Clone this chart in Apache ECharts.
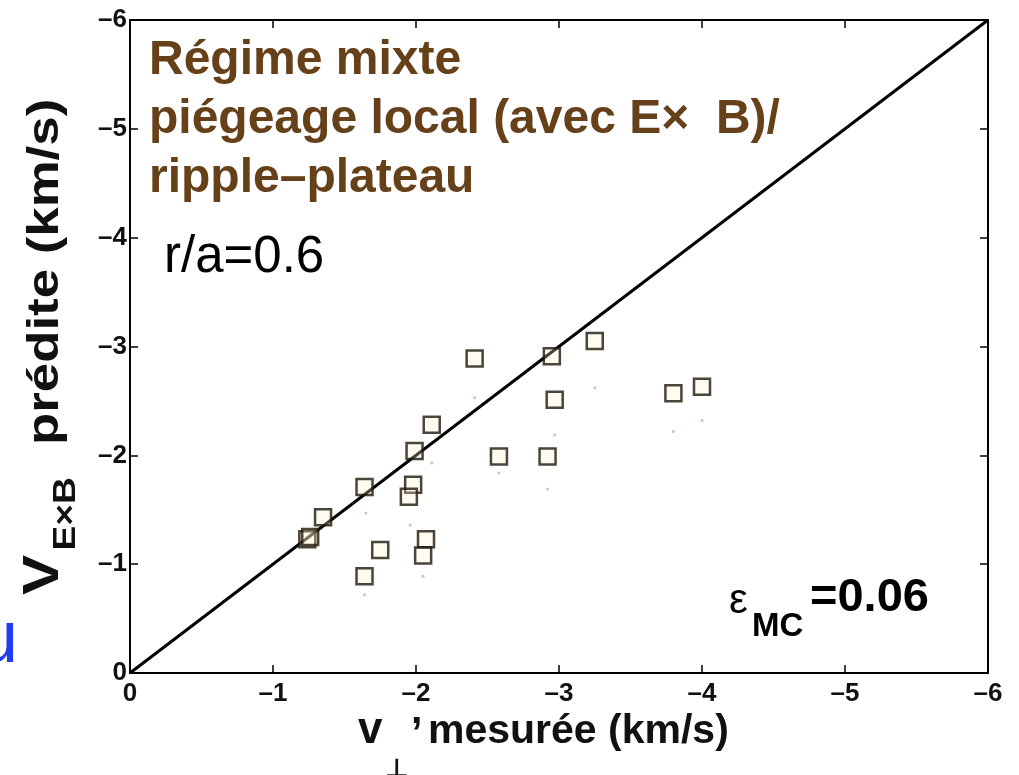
<!DOCTYPE html>
<html>
<head>
<meta charset="utf-8">
<script src="https://cdn.jsdelivr.net/npm/echarts@6/dist/echarts.min.js"></script>
<style>
  html, body { margin: 0; padding: 0; background: #fff; }
  #chart { width: 1019px; height: 775px; }
</style>
</head>
<body>
<div id="chart"></div>
<script>
// Measured perpendicular velocity (km/s) and predicted E×B velocity (km/s)
const measured  = [-2.41, -2.95, -3.25, -2.97, -3.80, -4.00, -2.11, -1.99, -2.58, -2.92,
                   -1.64, -1.98, -1.95, -1.35, -1.24, -1.26, -2.07, -1.75, -2.05, -1.64];
const predicted = [-2.89, -2.91, -3.05, -2.51, -2.57, -2.63, -2.28, -2.04, -1.99, -1.99,
                   -1.71, -1.73, -1.62, -1.43, -1.23, -1.25, -1.23, -1.13, -1.08, -0.89];

// Faint secondary markers
const faintX = [-2.41, -3.25, -3.80, -4.00, -2.97, -2.11, -2.58, -2.92, -1.65, -1.96, -2.05, -1.64];
const faintY = [-2.53, -2.62, -2.22, -2.32, -2.19, -1.93, -1.84, -1.69, -1.47, -1.36, -0.89, -0.72];

// Identity line v_pred = v_meas
const diagX = [0, -6];
const diagY = [0, -6];

// Axis range
const axisMin = -6;
const axisMax = 0;
const axisStep = 1;

const FONT = '"Liberation Sans", Arial, Helvetica, sans-serif';
const pairs = (xs, ys) => xs.map((x, i) => [x, ys[i]]);
const tickFmt = v => (v === 0 ? '0' : '\u2013' + Math.abs(v));

const chart = echarts.init(document.getElementById('chart'), null, { renderer: 'canvas' });

const baseAxis = {
  type: 'value',
  min: axisMin,
  max: axisMax,
  interval: axisStep,
  inverse: true,
  splitLine: { show: false },
  axisLine: { show: true, onZero: false, lineStyle: { color: '#000', width: 2 } },
  axisTick: { show: true, inside: true, length: 8, lineStyle: { color: '#000', width: 1.5 } }
};

const option = {
  backgroundColor: '#fff',
  animation: false,
  grid: { left: 130, right: 31, top: 20, bottom: 102, containLabel: false },
  xAxis: [
    Object.assign({}, baseAxis, {
      position: 'bottom',
      axisLabel: { fontFamily: FONT, fontSize: 26, fontWeight: 'bold', color: '#111', margin: 8, formatter: tickFmt }
    }),
    Object.assign({}, baseAxis, { position: 'top', axisLabel: { show: false } })
  ],
  yAxis: [
    Object.assign({}, baseAxis, {
      position: 'left',
      axisLabel: { fontFamily: FONT, fontSize: 26, fontWeight: 'bold', color: '#111', margin: 3, formatter: tickFmt }
    }),
    Object.assign({}, baseAxis, { position: 'right', axisLabel: { show: false } })
  ],
  series: [
    {
      name: 'identité',
      type: 'line',
      data: pairs(diagX, diagY),
      symbol: 'none',
      lineStyle: { color: '#000', width: 3 },
      z: 2
    },
    {
      name: 'traces',
      type: 'scatter',
      data: pairs(faintX, faintY),
      symbol: 'circle',
      symbolSize: 3,
      itemStyle: { color: 'rgba(160,120,140,0.6)' },
      z: 1
    },
    {
      name: 'mesures',
      type: 'scatter',
      data: pairs(measured, predicted),
      symbol: 'rect',
      symbolSize: 16,
      itemStyle: { color: 'rgba(255,240,205,0.35)', borderColor: '#1e160a', borderWidth: 2.5 },
      z: 3
    }
  ],
  graphic: [
    // Regime caption
    {
      type: 'text', x: 149, y: 31, z: 10,
      style: {
        text: 'Régime mixte\npiégeage local (avec E×  B)/\nripple\u2013plateau',
        font: 'bold 48px ' + FONT, fill: '#654019', lineHeight: 59,
        textAlign: 'left', verticalAlign: 'top'
      }
    },
    {
      type: 'text', x: 164, y: 258, z: 10,
      style: { text: 'r/a=0.6', font: '51px ' + FONT, fill: '#000', textAlign: 'left', verticalAlign: 'middle' }
    },
    // epsilon_MC annotation
    {
      type: 'text', x: 729, y: 601, z: 10,
      style: { text: 'ε', font: '42px ' + FONT, fill: '#000', textAlign: 'left', verticalAlign: 'middle' }
    },
    {
      type: 'text', x: 752, y: 627, z: 10,
      style: { text: 'MC', font: 'bold 33px ' + FONT, fill: '#000', textAlign: 'left', verticalAlign: 'middle' }
    },
    {
      type: 'text', x: 810, y: 598, z: 10,
      style: { text: '=0.06', font: 'bold 47px ' + FONT, fill: '#000', textAlign: 'left', verticalAlign: 'middle' }
    },
    // x-axis title
    {
      type: 'group', x: 0, y: 0,
      children: [
        { type: 'text', x: 358, y: 731, style: { text: 'v', font: 'bold 44px ' + FONT, fill: '#111', verticalAlign: 'middle' } },
        { type: 'text', x: 385, y: 770, style: { text: '⊥', font: 'bold 26px "DejaVu Sans", sans-serif', fill: '#111', verticalAlign: 'middle' } },
        { type: 'text', x: 411, y: 712, style: { text: ',', font: 'bold 41px ' + FONT, fill: '#111', verticalAlign: 'middle' } },
        { type: 'text', x: 428, y: 732, style: { text: 'mesurée (km/s)', font: 'bold 41px ' + FONT, fill: '#111', verticalAlign: 'middle' } }
      ]
    },
    // y-axis title, reading bottom to top
    {
      type: 'group', x: 61, y: 595, rotation: Math.PI / 2, scaleX: 1.2,
      children: [
        { type: 'text', x: 0, y: -17, style: { text: 'V', font: 'bold 50px ' + FONT, fill: '#111', verticalAlign: 'middle' } },
        { type: 'text', x: 37, y: 5, style: { text: 'E×B', font: 'bold 31px ' + FONT, fill: '#111', verticalAlign: 'middle' } },
        { type: 'text', x: 125, y: -15, style: { text: 'prédite (km/s)', font: 'bold 44px ' + FONT, fill: '#111', verticalAlign: 'middle' } }
      ]
    },
    // partial blue letter at the left margin
    {
      type: 'text', x: -23, y: 642, z: 10,
      style: { text: 'u', font: '74px ' + FONT, fill: '#1f3cf2', verticalAlign: 'middle' }
    }
  ]
};

chart.setOption(option);
</script>
</body>
</html>
